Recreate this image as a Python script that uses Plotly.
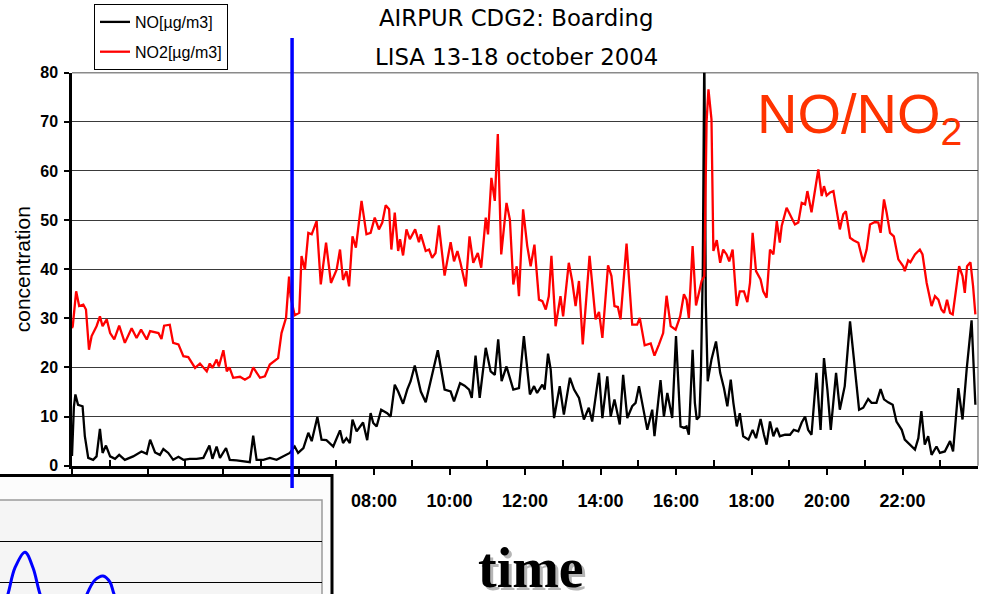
import plotly.graph_objects as go

# ---------------- data (hours of day, µg/m3) ----------------
no2_t = [0.00, 0.02, 0.11, 0.19, 0.30, 0.37, 0.45, 0.52, 0.65, 0.74, 0.81, 0.92, 1.01, 1.12, 1.25, 1.40,
         1.58, 1.71, 1.83, 1.98, 2.07, 2.29, 2.37, 2.44, 2.59, 2.68, 2.82, 2.95, 3.08, 3.26, 3.39, 3.57,
         3.65, 3.72, 3.83, 3.89, 4.01, 4.10, 4.17, 4.27, 4.45, 4.58, 4.71, 4.80, 4.98, 5.11, 5.24, 5.38,
         5.46, 5.55, 5.67, 5.75, 5.79, 5.90, 6.02, 6.08, 6.17, 6.26, 6.35, 6.48, 6.59, 6.73, 6.86, 7.01,
         7.10, 7.18, 7.27, 7.34, 7.43, 7.52, 7.67, 7.80, 7.91, 8.02, 8.13, 8.22, 8.31, 8.40, 8.46, 8.55,
         8.64, 8.69, 8.77, 8.86, 8.95, 9.09, 9.19, 9.24, 9.37, 9.46, 9.54, 9.63, 9.72, 9.87, 10.03, 10.12,
         10.21, 10.29, 10.43, 10.53, 10.63, 10.75, 10.84, 10.96, 11.02, 11.11, 11.20, 11.28, 11.37, 11.51,
         11.60, 11.69, 11.78, 11.84, 11.95, 12.06, 12.15, 12.25, 12.37, 12.46, 12.55, 12.63, 12.70, 12.81,
         12.94, 13.01, 13.16, 13.25, 13.34, 13.43, 13.53, 13.71, 13.87, 13.96, 14.05, 14.20, 14.29, 14.37,
         14.46, 14.53, 14.69, 14.84, 14.97, 15.04, 15.17, 15.33, 15.43, 15.55, 15.66, 15.75, 15.86, 15.99,
         16.11, 16.21, 16.28, 16.34, 16.44, 16.53, 16.59, 16.68, 16.75, 16.81, 16.86, 16.94, 16.99, 17.08,
         17.17, 17.25, 17.34, 17.41, 17.50, 17.61, 17.69, 17.80, 17.89, 17.96, 18.03, 18.12, 18.24, 18.31,
         18.40, 18.49, 18.58, 18.67, 18.75, 18.80, 18.93, 19.00, 19.15, 19.24, 19.33, 19.42, 19.48, 19.59,
         19.68, 19.77, 19.86, 19.92, 19.99, 20.08, 20.17, 20.25, 20.34, 20.43, 20.50, 20.61, 20.70, 20.83,
         20.96, 21.05, 21.14, 21.27, 21.36, 21.42, 21.51, 21.58, 21.67, 21.77, 21.89, 22.02, 22.06, 22.15,
         22.21, 22.33, 22.46, 22.53, 22.64, 22.77, 22.86, 22.95, 23.03, 23.10, 23.18, 23.26, 23.33, 23.43,
         23.50, 23.59, 23.65, 23.71, 23.80, 23.87, 23.93]
no2_v = [28.0, 28.4, 35.5, 32.5, 32.8, 31.8, 23.6, 26.4, 28.4, 30.4, 28.4, 29.8, 27.0, 25.7, 28.5, 25.0,
         28.0, 26.0, 27.7, 25.7, 27.4, 27.0, 25.8, 28.5, 28.7, 25.0, 24.7, 22.3, 22.1, 19.9, 20.8, 19.2,
         20.8, 19.9, 21.6, 20.2, 23.5, 19.2, 20.0, 17.9, 18.1, 17.5, 18.1, 20.0, 17.9, 18.2, 20.6, 21.5,
         21.9, 27.0, 30.1, 38.5, 34.5, 30.6, 31.1, 42.7, 39.9, 47.4, 47.1, 49.8, 36.9, 45.4, 37.2, 39.9,
         44.0, 37.8, 39.6, 36.5, 46.7, 44.4, 53.9, 47.1, 47.4, 50.5, 48.1, 49.5, 53.0, 52.2, 44.0, 51.5,
         43.7, 46.1, 42.8, 48.1, 46.1, 48.1, 45.5, 47.1, 43.7, 44.0, 42.3, 43.3, 48.9, 38.7, 45.5, 41.6,
         43.7, 41.3, 36.5, 46.7, 41.3, 43.3, 40.3, 50.5, 47.1, 58.6, 53.9, 67.5, 43.0, 53.5,
         50.1, 36.9, 40.6, 34.5, 52.2, 44.7, 40.6, 45.0, 33.8, 33.5, 31.8, 34.5, 42.7, 28.4,
         34.5, 30.4, 41.3, 37.6, 32.5, 37.6, 24.7, 42.7, 29.8, 31.3, 26.0, 40.8, 38.6, 32.5,
         32.3, 29.8, 45.2, 28.7, 28.7, 30.1, 24.5, 24.9, 22.4, 24.7, 27.0, 34.6, 28.4, 27.7,
         30.4, 34.9, 33.8, 30.1, 44.7, 32.6, 34.5, 37.6, 38.6, 70.0, 76.6, 70.5, 43.7, 45.9,
         41.3, 44.0, 43.0, 41.6, 44.0, 32.5, 35.5, 35.5, 33.3, 37.2, 47.4, 39.6, 37.9, 35.5,
         34.2, 44.0, 43.0, 49.8, 45.4, 48.8, 52.5, 51.5, 49.1, 49.5, 53.5, 53.2, 55.9, 51.6,
         55.6, 60.3, 54.9, 56.9, 55.0, 55.6, 55.9, 52.2, 48.1, 51.2, 51.8, 46.4, 45.9, 45.4,
         41.4, 44.0, 49.1, 49.6, 49.5, 47.4, 54.2, 51.5, 47.4, 46.7, 42.0, 40.6, 39.6, 41.8,
         41.4, 43.0, 44.0, 43.0, 37.2, 32.5, 34.5, 33.8, 31.8, 31.1, 33.8, 31.1, 30.8, 36.5,
         40.6, 38.6, 35.2, 40.6, 41.4, 36.5, 30.8]

no_t = [0.00, 0.05, 0.09, 0.16, 0.28, 0.34, 0.43, 0.56, 0.65, 0.74, 0.81, 0.90, 1.01, 1.14, 1.25, 1.40,
        1.62, 1.84, 1.98, 2.07, 2.20, 2.33, 2.42, 2.55, 2.68, 2.82, 2.95, 3.12, 3.30, 3.48, 3.64, 3.72,
        3.83, 3.92, 4.08, 4.18, 4.36, 4.54, 4.71, 4.80, 4.89, 5.07, 5.24, 5.42, 5.60, 5.77, 5.90, 5.99,
        6.13, 6.26, 6.35, 6.50, 6.61, 6.74, 6.92, 7.10, 7.18, 7.27, 7.36, 7.43, 7.54, 7.71, 7.82, 7.91,
        7.98, 8.07, 8.19, 8.35, 8.44, 8.55, 8.64, 8.77, 8.88, 8.97, 9.08, 9.24, 9.37, 9.54, 9.69, 9.87,
        10.03, 10.12, 10.28, 10.40, 10.52, 10.59, 10.69, 10.80, 10.96, 11.09, 11.20, 11.29, 11.38, 11.51,
        11.62, 11.69, 11.84, 11.97, 12.13, 12.24, 12.32, 12.46, 12.52, 12.61, 12.68, 12.77, 12.92, 13.03,
        13.19, 13.30, 13.43, 13.56, 13.69, 13.78, 13.96, 14.05, 14.18, 14.27, 14.37, 14.51, 14.60, 14.71,
        14.84, 14.93, 15.02, 15.11, 15.24, 15.37, 15.43, 15.59, 15.68, 15.77, 15.90, 16.00, 16.06, 16.12,
        16.21, 16.28, 16.34, 16.44, 16.50, 16.55, 16.62, 16.66, 16.71, 16.75, 16.79, 16.84, 16.94, 17.06,
        17.17, 17.27, 17.36, 17.45, 17.52, 17.61, 17.69, 17.78, 17.92, 18.03, 18.12, 18.24, 18.33, 18.40,
        18.49, 18.58, 18.67, 18.75, 18.89, 19.02, 19.12, 19.24, 19.33, 19.42, 19.50, 19.59, 19.72, 19.83,
        19.92, 20.01, 20.10, 20.24, 20.34, 20.47, 20.61, 20.70, 20.85, 20.96, 21.09, 21.18, 21.31, 21.42,
        21.51, 21.62, 21.74, 21.84, 21.98, 22.06, 22.20, 22.33, 22.42, 22.50, 22.59, 22.68, 22.77, 22.90,
        22.99, 23.12, 23.26, 23.34, 23.48, 23.59, 23.70, 23.83, 23.93]
no_v = [2.0, 12.0, 14.5, 12.4, 12.1, 6.0, 1.6, 1.2, 1.9, 7.5, 2.6, 4.1, 1.9, 1.4, 2.2, 1.2,
        1.9, 2.9, 2.4, 5.3, 2.7, 2.2, 3.4, 2.6, 1.2, 1.8, 1.2, 1.4, 1.4, 1.6, 4.1, 1.4,
        3.9, 1.6, 3.6, 1.2, 1.1, 0.9, 0.7, 6.1, 1.2, 1.2, 1.6, 1.2, 2.0, 2.6, 3.9, 2.6,
        3.6, 6.7, 5.0, 9.9, 5.3, 5.2, 3.9, 7.2, 4.6, 5.6, 4.6, 9.4, 7.0, 8.8, 5.2, 10.7,
        8.7, 8.0, 11.4, 10.7, 10.0, 16.5, 15.1, 12.6, 15.5, 17.2, 20.4, 15.1, 12.9, 18.5, 23.5, 15.5,
        15.1, 13.1, 16.8, 16.3, 15.5, 13.8, 22.4, 13.8, 24.0, 19.2, 18.5, 25.7, 17.2, 20.2,
        17.2, 15.5, 15.8, 26.4, 14.5, 16.2, 14.8, 16.5, 15.5, 22.8, 19.6, 9.7, 16.2, 10.4,
        17.9, 15.5, 13.8, 9.4, 11.8, 9.0, 18.9, 9.7, 18.2, 10.0, 13.5, 8.4, 18.5, 9.7,
        12.1, 12.8, 16.2, 12.8, 7.3, 11.4, 6.0, 17.4, 10.0, 14.8, 9.7, 26.4, 16.2, 8.0,
        7.7, 8.0, 6.3, 23.6, 12.8, 9.4, 10.0, 18.9, 39.9, 85.0, 33.0, 17.2, 21.6, 25.3,
        18.9, 15.8, 12.1, 17.5, 12.8, 8.0, 10.7, 6.0, 5.3, 7.3, 5.6, 9.5, 6.3, 4.3,
        9.0, 6.0, 7.7, 6.0, 6.3, 6.3, 7.3, 7.0, 8.8, 10.0, 7.3, 6.3, 18.9, 7.3,
        21.9, 15.5, 7.3, 18.9, 11.4, 16.2, 29.4, 23.0, 11.4, 11.8, 13.6, 12.8, 12.8, 15.6,
        13.5, 12.9, 12.4, 9.0, 7.3, 5.3, 4.3, 3.3, 5.6, 11.1, 4.3, 6.0, 2.2, 3.9,
        2.6, 2.9, 5.0, 2.9, 15.8, 9.4, 19.6, 29.6, 12.4]

tick_hours = [0, 2, 4, 6, 8, 10, 12, 14, 16, 18, 20, 22]
tick_labels = ["", "", "", "", "08:00", "10:00", "12:00", "14:00", "16:00", "18:00", "20:00", "22:00"]
minor_hours = [1, 3, 5, 7, 9, 11, 13, 15, 17, 19, 21, 23]
boarding_time = 5.83  # blue marker

# inset (partially visible second chart)
inset_x = [0, 8, 15, 25, 33, 40, 50, 64, 80, 87, 95, 103, 110, 114, 125]
inset_y = [-0.9, -0.29, 0.35, 0.73, 0.35, -0.29, -0.9, -1.2, -0.8, -0.29, 0.05, 0.15, 0.0, -0.29, -0.9]

W, H = 988, 594
px = lambda v: v / W
py = lambda v: 1 - v / H

fig = go.Figure()
fig.add_trace(go.Scatter(x=no_t, y=no_v, mode="lines", name="NO[µg/m3]",
                         line=dict(color="black", width=2.3), legendgroup="a"))
fig.add_trace(go.Scatter(x=no2_t, y=no2_v, mode="lines", name="NO2[µg/m3]",
                         line=dict(color="#ff0000", width=2.3), legendgroup="b"))
fig.add_trace(go.Scatter(x=inset_x, y=inset_y, mode="lines", line=dict(color="#0000ff", width=3, shape="spline"),
                         xaxis="x2", yaxis="y2", showlegend=False, hoverinfo="skip"))

fig.update_layout(
    width=W, height=H,
    margin=dict(l=0, r=0, t=0, b=0, autoexpand=False),
    paper_bgcolor="white", plot_bgcolor="rgba(0,0,0,0)",
    font=dict(family="Liberation Sans, Arial", color="black"),
    xaxis=dict(domain=[px(72), px(978)], range=[0, 24], tickmode="array", tickvals=tick_hours,
               ticktext=tick_labels, ticks="outside", ticklen=7, tickwidth=2, tickcolor="black",
               showline=True, linecolor="black", linewidth=2.5, showgrid=False, zeroline=False,
               automargin=False,
               tickfont=dict(family="Liberation Sans", size=18, weight="bold"), ticklabelstandoff=10,
               minor=dict(tickmode="array", tickvals=minor_hours, ticks="inside", ticklen=6,
                          tickwidth=1.5, tickcolor="black", showgrid=False)),
    yaxis=dict(domain=[py(465.7), py(72.7)], range=[0, 80], dtick=10, ticks="outside", ticklen=5,
               tickwidth=2, tickcolor="black", showline=True, linecolor="black", linewidth=2.5,
               showgrid=True, gridcolor="#3a3a3a", gridwidth=1, zeroline=False, automargin=False,
               tickfont=dict(family="Liberation Sans", size=16, weight="bold"), ticklabelstandoff=3,
               title=dict(text="concentration", font=dict(family="Liberation Sans", size=21), standoff=4)),
    xaxis2=dict(domain=[0, px(322)], range=[0, 322], showticklabels=False, showgrid=False,
                zeroline=False, showline=False, anchor="y2", automargin=False),
    yaxis2=dict(domain=[0, py(500)], range=[-0.29, 2.0], tickmode="array", tickvals=[0, 1],
                showticklabels=False, showgrid=True, gridcolor="black", gridwidth=1,
                zeroline=False, showline=False, anchor="x2", automargin=False),
    showlegend=True,
    legend=dict(x=px(94), y=py(4), xanchor="left", yanchor="top", bgcolor="white",
                bordercolor="black", borderwidth=1, font=dict(family="Liberation Sans", size=16),
                tracegroupgap=6, itemwidth=30),
)

shapes = [
    # plot frame (top / right, gray)
    dict(type="line", xref="paper", yref="paper", x0=px(72), x1=px(978), y0=py(72.7), y1=py(72.7),
         line=dict(color="#8a8a8a", width=1.5), layer="below"),
    dict(type="line", xref="paper", yref="paper", x0=px(978), x1=px(978), y0=py(465.7), y1=py(72.7),
         line=dict(color="#8a8a8a", width=1.5), layer="below"),
    # inset outer box
    dict(type="rect", xref="paper", yref="paper", x0=-0.01, x1=px(332), y0=-0.01, y1=py(475.5),
         fillcolor="#fcfcfc", line=dict(color="black", width=3), layer="below"),
    # inset inner panel
    dict(type="rect", xref="paper", yref="paper", x0=-0.01, x1=px(322), y0=-0.01, y1=py(500),
         fillcolor="#f5f5f5", line=dict(color="#9a9a9a", width=1.5), layer="below"),
    # boarding marker
    dict(type="line", xref="x", yref="paper", x0=boarding_time, x1=boarding_time, y0=py(488), y1=py(38),
         line=dict(color="#0000ff", width=3.5), layer="above"),
]
fig.update_layout(shapes=shapes)

annotations = [
    dict(text="AIRPUR CDG2: Boarding", x=px(516), y=py(18), xref="paper", yref="paper",
         xanchor="center", yanchor="middle",
         showarrow=False, font=dict(family="DejaVu Sans", size=22.8, color="black")),
    dict(text="LISA 13-18 october 2004", x=px(516), y=py(57), xref="paper", yref="paper",
         xanchor="center", yanchor="middle",
         showarrow=False, font=dict(family="DejaVu Sans", size=22.8, color="black")),
    dict(text="NO/NO<sub>2</sub>", x=px(755), y=py(117), xref="paper", yref="paper", xanchor="left",
         yanchor="middle",
         showarrow=False, font=dict(family="Liberation Sans", size=56, color="#ff3300")),
    dict(text="<b>time</b>", x=px(531), y=py(568), xref="paper", yref="paper", xshift=3, yshift=-3,
         xanchor="center", yanchor="middle",
         showarrow=False, font=dict(family="Liberation Serif", size=56, color="#b5b5b5")),
    dict(text="<b>time</b>", x=px(531), y=py(568), xref="paper", yref="paper",
         xanchor="center", yanchor="middle",
         showarrow=False, font=dict(family="Liberation Serif", size=56, color="black")),
]
fig.update_layout(annotations=annotations)

fig.write_html("out.html")
